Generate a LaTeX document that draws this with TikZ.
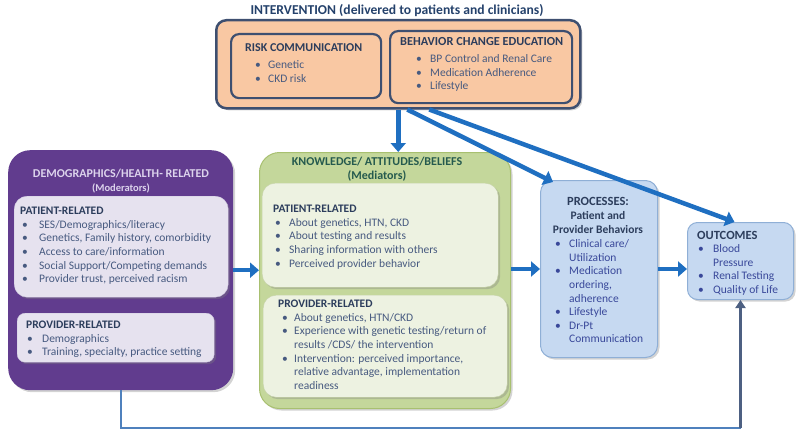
\documentclass[tikz,border=0pt]{standalone}
\usepackage{fontspec}
\setmainfont{Carlito}
\usetikzlibrary{arrows.meta,shadows,calc}
\definecolor{titlenavy}{HTML}{24416B}
\definecolor{orfill}{HTML}{F9C8A3}
\definecolor{orline}{HTML}{3E4F70}
\definecolor{purp}{HTML}{613C8E}
\definecolor{purpin}{HTML}{E6E2EF}
\definecolor{purpinline}{HTML}{CFC8DF}
\definecolor{purptxt}{HTML}{DCD3EC}
\definecolor{grfill}{HTML}{C4D79B}
\definecolor{grline}{HTML}{A8C070}
\definecolor{grin}{HTML}{EDF2E1}
\definecolor{grinline}{HTML}{C5D2A8}
\definecolor{blfill}{HTML}{C6D9F1}
\definecolor{blline}{HTML}{8FAFD6}
\definecolor{arrowblue}{HTML}{1F6FC1}
\definecolor{thinblue}{HTML}{4F81BD}
\definecolor{uparrowc}{HTML}{4D6082}
\definecolor{headtxt}{HTML}{2C3D5C}
\definecolor{bodytxt}{HTML}{475A80}
\newcommand{\bu}[1][14pt]{\makebox[#1][l]{\textbullet}}
\newcommand{\ind}[1][14pt]{\hspace*{#1}}
\newcommand{\fs}{\rule{0pt}{9.5pt}}
\begin{document}
\begin{tikzpicture}[x=1pt,y=-1pt,
  box/.style={anchor=north west, inner sep=0pt},
  shad/.style={drop shadow={shadow xshift=2pt,shadow yshift=-2pt,opacity=0.35}},
  txt/.style={inner sep=0pt, align=left, anchor=north west, text=bodytxt,
    font=\fontsize{11.5}{13.6}\selectfont},
  htxt/.style={inner sep=0pt, anchor=base west, text=headtxt, font=\bfseries\fontsize{12}{14}\selectfont},
  ctxt/.style={inner sep=0pt, align=center, anchor=north, font=\bfseries\fontsize{12}{14.5}\selectfont},
  bigarrow/.style={draw=arrowblue, line width=4.5pt, -{Triangle[length=9pt,width=15pt]}},
  thinline/.style={draw=thinblue, line width=1.6pt},
  uparrow/.style={draw=uparrowc, line width=2.4pt, -{Triangle[length=8pt,width=10pt]}}
]
\useasboundingbox (0,0) rectangle (800,436);

% ---------- Intervention ----------
\node[anchor=center, inner sep=0pt, text=titlenavy, font=\bfseries\fontsize{13.6}{15}\selectfont] (ititle) at (397,11) {INTERVENTION (delivered to patients and clinicians)};
\node[box, shad, fill=orfill, draw=orline, line width=2.5pt, rounded corners=10pt,
  minimum width=364pt, minimum height=88pt] (inter) at (215,19) {};
\node[box, draw=orline, line width=2.2pt, rounded corners=8pt,
  minimum width=150pt, minimum height=64pt] (risk) at (230,33) {};
\node[box, draw=orline, line width=2.2pt, rounded corners=8pt,
  minimum width=182pt, minimum height=72pt] (beh) at (389,30) {};
\node[htxt] (risktitle) at (245,52) {RISK COMMUNICATION};
\node[txt] (risktxt) at (255,59) {\fs\bu[13pt]Genetic\\ \bu[13pt]CKD risk};
\node[htxt, font=\bfseries\fontsize{12.3}{14}\selectfont] (behtitle) at (400,46) {BEHAVIOR CHANGE EDUCATION};
\node[txt] (behtxt) at (416,53) {\fs\bu BP Control and Renal Care\\ \bu Medication Adherence\\ \bu Lifestyle};

% ---------- Demographics ----------
\node[box, shad, fill=purp, rounded corners=22pt,
  minimum width=225pt, minimum height=240pt] (demo) at (8,150) {};
\node[ctxt, text=purptxt] (demotitle) at (121,168) {\fs DEMOGRAPHICS/HEALTH- RELATED\\[-1pt]{\fontsize{10.5}{12}\selectfont (Moderators)}};
\node[box, shad, fill=purpin, draw=purpinline, rounded corners=13pt,
  minimum width=214pt, minimum height=101pt] (demopat) at (14,196) {};
\node[txt] (demopattxt) at (20,205) {\fs{\bfseries\color{headtxt}\fontsize{11.5}{13.6}\selectfont PATIENT-RELATED}\\
  \hspace*{2pt}\bu[17pt]SES/Demographics/literacy\\
  \hspace*{2pt}\bu[17pt]Genetics, Family history, comorbidity\\
  \hspace*{2pt}\bu[17pt]Access to care/information\\
  \hspace*{2pt}\bu[17pt]Social Support/Competing demands\\
  \hspace*{2pt}\bu[17pt]Provider trust, perceived racism};
\node[box, shad, fill=purpin, draw=purpinline, rounded corners=8pt,
  minimum width=197pt, minimum height=49pt] (demoprov) at (17,313) {};
\node[txt] (demoprovtxt) at (26,319) {\fs{\bfseries\color{headtxt}PROVIDER-RELATED}\\
  \hspace*{1pt}\bu[15pt]Demographics\\
  \hspace*{1pt}\bu[15pt]Training, specialty, practice setting};

% ---------- Knowledge ----------
\node[box, shad, fill=grfill, draw=grline, line width=1pt, rounded corners=20pt,
  minimum width=251pt, minimum height=256pt] (know) at (259,152) {};
\node[ctxt, text=headtxt!85!green] (knowtitle) at (377,156) {\fs KNOWLEDGE/ ATTITUDES/BELIEFS\\[-0.5pt](Mediators)};
\node[box, shad, fill=grin, draw=grinline, rounded corners=13pt,
  minimum width=236pt, minimum height=104pt] (knowpat) at (262,183) {};
\node[txt] (knowpattxt) at (273,203) {\fs{\bfseries\color{headtxt}PATIENT-RELATED}\\
  \hspace*{2pt}\bu About genetics, HTN,  CKD\\
  \hspace*{2pt}\bu About testing and results\\
  \hspace*{2pt}\bu Sharing information with others\\
  \hspace*{2pt}\bu Perceived provider behavior};
\node[box, shad, fill=grin, draw=grinline, rounded corners=13pt,
  minimum width=244pt, minimum height=102pt] (knowprov) at (263,295) {};
\node[txt] (knowprovtxt) at (278,298) {\fs{\bfseries\color{headtxt}PROVIDER-RELATED}\\
  \hspace*{4pt}\bu[12pt]About genetics, HTN/CKD\\
  \hspace*{4pt}\bu[12pt]Experience with genetic testing/return of\\
  \hspace*{4pt}\ind[12pt]results /CDS/ the intervention\\
  \hspace*{4pt}\bu[12pt]Intervention: perceived importance,\\
  \hspace*{4pt}\ind[12pt]relative advantage, implementation\\
  \hspace*{4pt}\ind[12pt]readiness};

% ---------- Processes ----------
\node[box, shad, fill=blfill, draw=blline, line width=1pt, rounded corners=12pt,
  minimum width=117pt, minimum height=177pt] (proc) at (540,180) {};
\node[ctxt, text=headtxt, font=\bfseries\fontsize{11.5}{13.8}\selectfont] (proctitle) at (598,196) {\fs{\fontsize{12.5}{13.8}\selectfont PROCESSES:}\\Patient and\\Provider Behaviors};
\node[txt, text=bodytxt!80!blue] (proctxt) at (555,238) {\fs\bu Clinical care/\\ \ind Utilization\\ \bu Medication\\ \ind ordering,\\ \ind adherence\\ \bu Lifestyle\\ \bu Dr-Pt\\ \ind Communication};

% ---------- Outcomes ----------
\node[box, shad, fill=blfill, draw=blline, line width=1pt, rounded corners=10pt,
  minimum width=106pt, minimum height=77pt] (out) at (687,222) {};
\node[htxt, font=\bfseries\fontsize{12.5}{14}\selectfont] (outtitle) at (697,239) {OUTCOMES};
\node[txt, text=bodytxt!80!blue] (outtxt) at (698,243) {\fs\bu[15pt]Blood\\ \ind[15pt]Pressure\\ \bu[15pt]Renal Testing\\ \bu[15pt]Quality of Life};

% ---------- Connectors ----------
\draw[bigarrow] (inter.south) -- (inter.south |- know.north);
\draw[bigarrow] ($(inter.south)+(9,0)$) -- ($(proc.north west)+(13,2)$);
\draw[bigarrow] ($(inter.south)+(31,0)$) -- ($(out.north)+(-6,0)$);
\draw[bigarrow] (demo.east) -- (demo.east -| know.west);
\draw[bigarrow] (proc.west -| know.east) -- (proc.west);
\draw[bigarrow] (proc.east) -- (proc.east -| out.west);
\coordinate (corner) at ($(out.south)+(0,128)$);
\draw[thinline] (demo.south) |- (corner);
\draw[uparrow] (corner) -- (out.south);
\end{tikzpicture}
\end{document}
